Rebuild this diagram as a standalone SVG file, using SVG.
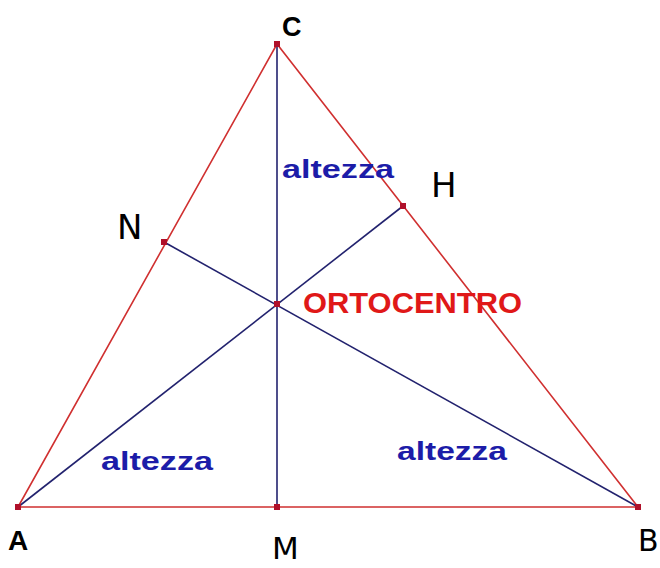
<svg xmlns="http://www.w3.org/2000/svg" width="660" height="568" viewBox="0 0 660 568">
<style>
.side{stroke:#d03030;stroke-width:1.6;fill:none}
.alt{stroke:#22226e;stroke-width:1.6;fill:none}
.pt{fill:#b0102a}
.lbl{font-family:"Liberation Sans",Arial,sans-serif;font-weight:bold;fill:#000}
.big{font-family:"DejaVu Sans",sans-serif;font-size:34px;fill:#000}
.alz{font-family:"Liberation Sans",Arial,sans-serif;font-weight:bold;font-size:25px;fill:#1c1ca8}
.orto{font-family:"Liberation Sans",Arial,sans-serif;font-weight:bold;font-size:29px;fill:#e01818}
</style>
<rect width="660" height="568" fill="#fff"/>
<g id="connectors">
<polygon class="side" points="18,507 638,507 277,44"/>
<line class="alt" x1="277" y1="44" x2="277" y2="507"/>
<line class="alt" x1="18" y1="507" x2="403" y2="206"/>
<line class="alt" x1="638" y1="507" x2="164" y2="242"/>
</g>
<g id="A"><rect class="pt" x="15" y="504" width="6" height="6"/><text class="lbl" x="18" y="550" font-size="28" text-anchor="middle">A</text></g>
<g id="B"><rect class="pt" x="635" y="504" width="6" height="6"/><text x="638" y="551" font-family="DejaVu Sans,sans-serif" font-size="30">B</text></g>
<g id="C"><rect class="pt" x="274" y="41" width="6" height="6"/><text class="lbl" x="282" y="36" font-size="27">C</text></g>
<g id="M"><rect class="pt" x="274" y="504" width="6" height="6"/><text class="big" x="272" y="559" font-size="31" style="font-size:31px">M</text></g>
<g id="N"><rect class="pt" x="161" y="239" width="6" height="6"/><text class="big" x="117" y="239">N</text></g>
<g id="H"><rect class="pt" x="400" y="203" width="6" height="6"/><text class="big" x="431" y="197">H</text></g>
<g id="ortocentro"><rect class="pt" x="274" y="301" width="6" height="6"/><text class="orto" x="303" y="313" textLength="219" lengthAdjust="spacingAndGlyphs">ORTOCENTRO</text></g>
<g id="labels">
<text class="alz" x="282" y="178" textLength="112" lengthAdjust="spacingAndGlyphs">altezza</text>
<text class="alz" x="101" y="470" textLength="112" lengthAdjust="spacingAndGlyphs">altezza</text>
<text class="alz" x="397" y="460" textLength="110" lengthAdjust="spacingAndGlyphs">altezza</text>
</g>
</svg>
